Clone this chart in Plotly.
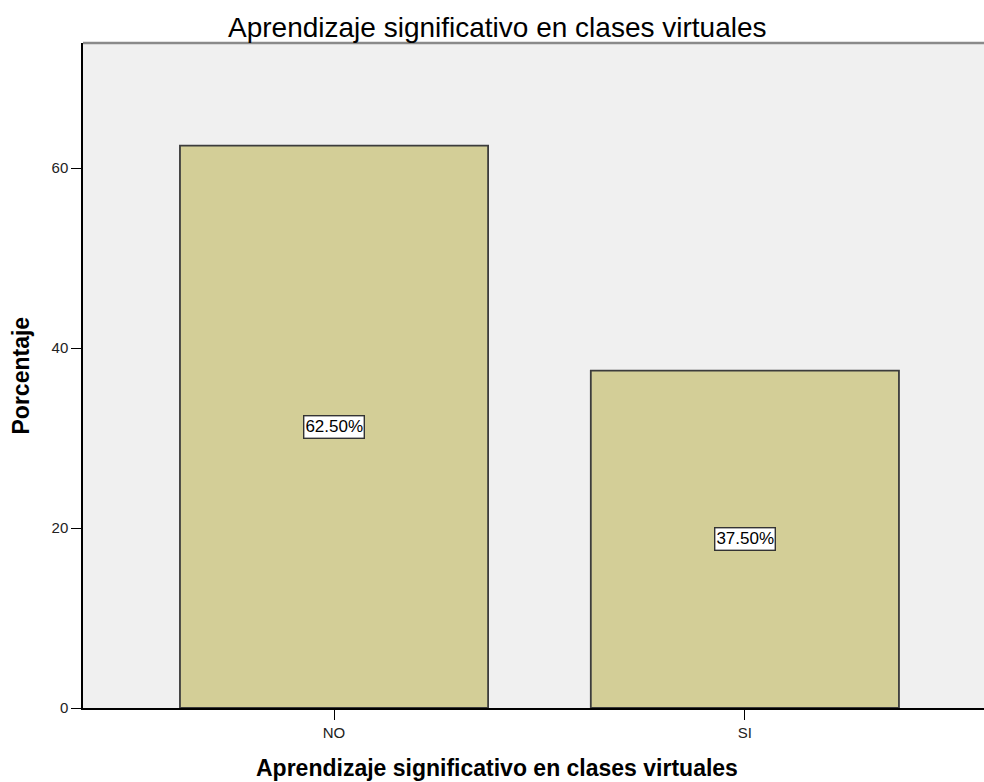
import plotly.graph_objects as go

categories = ["NO", "SI"]
values = [62.5, 37.5]
labels = ["62.50%", "37.50%"]
y_ticks = [0, 20, 40, 60]

FONT = "Liberation Sans, Arial, sans-serif"

fig = go.Figure()
fig.add_trace(go.Bar(
    x=categories, y=values, width=0.75,
    marker=dict(color="#D3CE97", line=dict(color="#3C3C3C", width=1.8)),
    hoverinfo="skip",
))

for c, v, t in zip(categories, values, labels):
    fig.add_annotation(x=c, y=v / 2, text=t, showarrow=False,
                       bgcolor="white", bordercolor="#333333", borderwidth=1.4, borderpad=1,
                       font=dict(family=FONT, size=17, color="black"))

# top border of plot area
fig.add_shape(type="line", xref="paper", yref="paper", x0=0, x1=1, y0=1, y1=1,
              line=dict(color="#8A8A8A", width=2.5))

# titles
fig.add_annotation(text="Aprendizaje significativo en clases virtuales",
                   xref="paper", yref="paper", x=0.4595, y=1, xanchor="center", yanchor="middle",
                   yshift=16, showarrow=False,
                   font=dict(family=FONT, size=28, color="black"))
fig.add_annotation(text="<b>Aprendizaje significativo en clases virtuales</b>",
                   xref="paper", yref="paper", x=0.4595, y=0, xanchor="center", yanchor="middle",
                   yshift=-60, showarrow=False,
                   font=dict(family=FONT, size=23, color="black"))
fig.add_annotation(text="<b>Porcentaje</b>", textangle=-90,
                   xref="paper", yref="paper", x=0, y=0.5, xanchor="center", yanchor="middle",
                   xshift=-63, showarrow=False,
                   font=dict(family=FONT, size=23, color="black"))

fig.update_layout(
    width=984, height=782,
    margin=dict(l=83, r=0, t=43, b=74, autoexpand=False),
    paper_bgcolor="white", plot_bgcolor="#F0F0F0",
    showlegend=False,
    font=dict(family=FONT, color="black"),
    xaxis=dict(range=[-0.611, 1.582], showgrid=False, zeroline=False, automargin=False,
               showline=True, linecolor="black", linewidth=1.5,
               ticks="outside", ticklen=10, tickcolor="black",
               tickfont=dict(size=15, color="#222222")),
    yaxis=dict(range=[0, 73.9], tickvals=y_ticks, showgrid=False, zeroline=False, automargin=False,
               showline=True, linecolor="black", linewidth=1.5,
               ticks="outside", ticklen=10, tickcolor="black",
               tickfont=dict(size=15, color="#222222")),
)

fig.write_html(
    "out.html",
    config={"displayModeBar": False},
    post_script="document.body.style.margin='0';document.body.style.overflow='hidden';",
)
